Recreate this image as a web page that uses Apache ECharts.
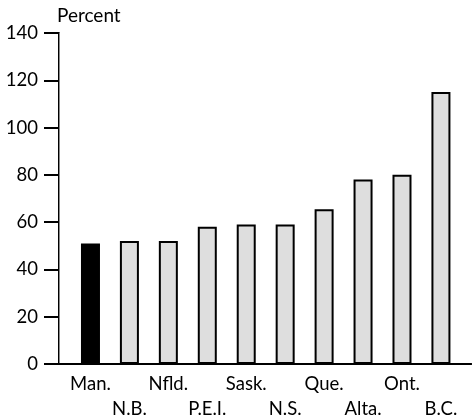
<!DOCTYPE html>
<html>
<head>
<meta charset="utf-8">
<script src="https://cdn.jsdelivr.net/npm/echarts@6/dist/echarts.min.js"></script>
<style>html,body{margin:0;padding:0;background:#fff}#c{width:472px;height:420px}</style>
</head>
<body>
<div id="c"></div>
<script>
const categories = ['Man.', 'N.B.', 'Nfld.', 'P.E.I.', 'Sask.', 'N.S.', 'Que.', 'Alta.', 'Ont.', 'B.C.'];
const values = [51, 52, 52, 58, 59, 59, 65.5, 78, 80, 115];
const highlight = 'Man.';
const yTicks = [0, 20, 40, 60, 80, 100, 120, 140];
const yName = 'Percent';

const FONT = 'Lato';
const chart = echarts.init(document.getElementById('c'), null, {renderer: 'canvas'});
chart.setOption({
  animation: false,
  backgroundColor: '#fff',
  title: {text: yName, left: 57, top: 6, padding: 0, textStyle: {fontFamily: FONT, fontSize: 19, fontWeight: 'normal', color: '#000'}},
  grid: [
    {left: 59, right: 1, top: 33, bottom: 56, containLabel: false, outerBoundsMode: 'none'},
    {left: 71, right: 11.6, top: 33, bottom: 56, containLabel: false, outerBoundsMode: 'none'}
  ],
  xAxis: [
    {gridIndex: 0, type: 'value', min: 0, max: 1, position: 'bottom',
     axisLine: {show: true, lineStyle: {color: '#000', width: 2}}, axisTick: {show: false}, axisLabel: {show: false}, splitLine: {show: false}},
    {gridIndex: 0, type: 'value', min: 0, max: 1, position: 'top',
     axisLine: {show: true, lineStyle: {color: '#000', width: 2}}, axisTick: {show: false}, axisLabel: {show: false}, splitLine: {show: false}},
    {gridIndex: 1, type: 'category', data: categories, position: 'bottom',
     axisLine: {show: false}, axisTick: {show: false},
     axisLabel: {interval: 0, margin: 7, fontFamily: FONT, fontSize: 18.5, color: '#000', lineHeight: 25.5,
       formatter: (v, i) => (i % 2 ? '\n' + v : v)}}
  ],
  yAxis: [
    {gridIndex: 0, type: 'value', min: yTicks[0], max: yTicks[yTicks.length - 1], interval: 20, position: 'left',
     axisLine: {show: true, lineStyle: {color: '#000', width: 2}},
     axisTick: {show: true, length: 15, lineStyle: {color: '#000', width: 2}},
     axisLabel: {margin: 21, fontFamily: FONT, fontSize: 18.5, color: '#000'},
     splitLine: {show: false}},
    {gridIndex: 0, type: 'value', min: 0, max: 140, position: 'right',
     axisLine: {show: true, lineStyle: {color: '#888', width: 1}}, axisTick: {show: false}, axisLabel: {show: false}, splitLine: {show: false}},
    {gridIndex: 1, type: 'value', min: 0, max: 140, show: false}
  ],
  series: [{
    type: 'bar', xAxisIndex: 2, yAxisIndex: 2, barWidth: 19,
    data: values.map((v, i) => ({
      value: v,
      itemStyle: {color: categories[i] === highlight ? '#000' : '#dedede', borderColor: '#000', borderWidth: 2}
    }))
  }]
});
</script>
</body>
</html>
